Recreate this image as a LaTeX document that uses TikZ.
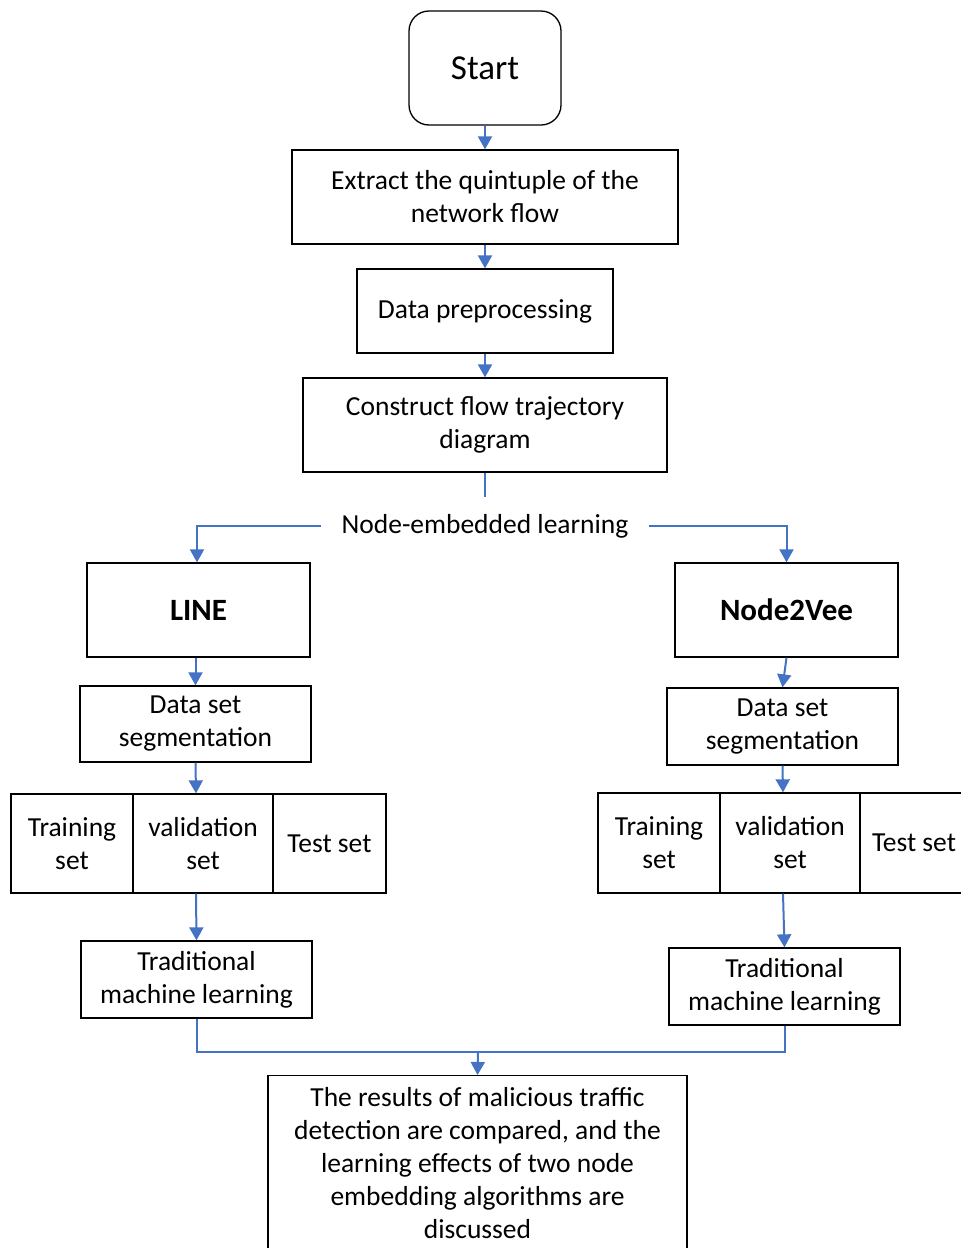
\documentclass[tikz,border=0pt]{standalone}
\usepackage{fontspec}
\setmainfont{Carlito}
\usetikzlibrary{arrows.meta}
\definecolor{flowblue}{HTML}{4472C4}
\tikzset{
  box/.style={draw=black, line width=1.3pt, inner sep=0pt, align=center, font=\fontsize{27.5}{33}\selectfont},
  flow/.style={draw=flowblue, line width=2pt},
  arr/.style={flow, -{Triangle[width=14pt,length=13pt]}},
  lbl/.style={inner xsep=20pt, inner ysep=4pt, font=\fontsize{27.5}{33}\selectfont},
  bigbold/.style={font=\fontsize{31}{37}\selectfont\bfseries}
}
\begin{document}
\begin{tikzpicture}[x=1pt,y=-1pt]
\useasboundingbox (0,0) rectangle (961,1248);
% top chain
\node[box, rounded corners=20pt, minimum width=152pt, minimum height=114pt, font=\fontsize{35}{42}\selectfont] (start) at (485,68) {Start};
\node[box, minimum width=386pt, minimum height=94pt] (extr) at (485,197) {Extract the quintuple of the\\network flow};
\node[box, minimum width=256pt, minimum height=84pt] (prep) at (485,311) {Data preprocessing};
\node[box, minimum width=364pt, minimum height=94pt] (cons) at (485,425) {Construct flow trajectory\\diagram};
\node[lbl] (nel) at (485,526) {Node-embedded learning};
\coordinate (c1) at (485,497);
% left branch
\node[box, bigbold, minimum width=223pt, minimum height=94pt] (line) at (198.5,610) {LINE};
\node[box, minimum width=231pt, minimum height=76pt] (lseg) at (195.5,724) {Data set\\segmentation};
\node[box, minimum width=122pt, minimum height=99pt] (ltr) at (72,843.5) {Training\\set};
\node[box, minimum width=140pt, minimum height=99pt] (lva) at (203,843.5) {validation\\set};
\node[box, minimum width=113pt, minimum height=99pt] (lte) at (329.5,843.5) {Test set};
\node[box, minimum width=231pt, minimum height=77pt] (ltrad) at (196.5,979.5) {Traditional\\machine learning};
% right branch
\node[box, bigbold, minimum width=223pt, minimum height=94pt] (n2v) at (786.5,610) {Node2Vee};
\node[box, minimum width=231pt, minimum height=77pt] (rseg) at (782.5,726.5) {Data set\\segmentation};
\node[box, minimum width=122pt, minimum height=100pt] (rtr) at (659,843) {Training\\set};
\node[box, minimum width=140pt, minimum height=100pt] (rva) at (790,843) {validation\\set};
\node[box, minimum width=108pt, minimum height=100pt] (rte) at (914,843) {Test set};
\node[box, minimum width=231pt, minimum height=77pt] (rtrad) at (784.5,986.5) {Traditional\\machine learning};
% result
\node[box, minimum width=419pt, minimum height=190pt, anchor=north] (res) at (477.5,1075) {};
\node[font=\fontsize{27.5}{33}\selectfont, align=center, anchor=north, inner sep=0pt] (restxt) at (477.5,1087) {The results of malicious traffic\\detection are compared, and the\\learning effects of two node\\embedding algorithms are\\discussed};
\coordinate (j) at (478,1052);
% connectors
\draw[arr] (start) -- (extr);
\draw[arr] (extr) -- (prep);
\draw[arr] (prep) -- (cons);
\draw[flow] (cons.south) -- (c1);
\draw[arr] (nel.west) -| ([xshift=-1.5pt]line.north);
\draw[arr] (nel.east) -| (n2v.north);
\draw[arr] ([xshift=-3pt]line.south) -- (lseg.north);
\draw[arr] (lseg.south) -- ([xshift=-7pt]lva.north);
\draw[arr] ([xshift=-7pt]lva.south) -- (ltrad.north);
\draw[arr] (n2v.south) -- (rseg.north);
\draw[arr] (rseg.south) -- ([xshift=-7pt]rva.north);
\draw[arr] ([xshift=-7pt]rva.south) -- (rtrad.north);
\draw[flow] (ltrad.south) -- (ltrad.south |- j) -- (rtrad.south |- j) -- (rtrad.south);
\draw[arr] (j) -- (res.north);
\end{tikzpicture}
\end{document}
